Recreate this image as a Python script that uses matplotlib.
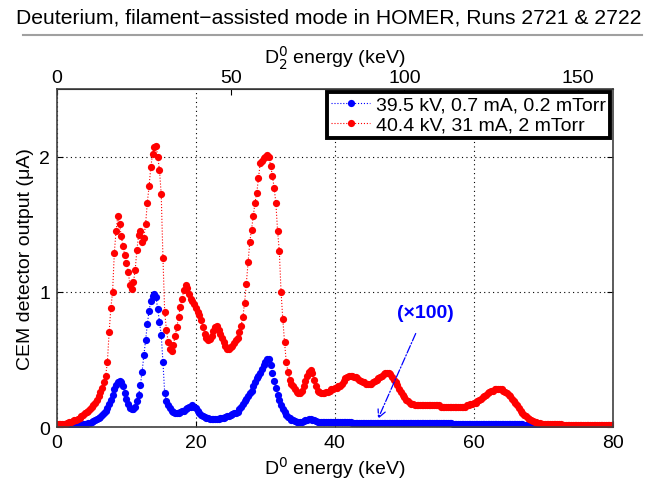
import numpy as np
import matplotlib
matplotlib.use('Agg')
import matplotlib.pyplot as plt
from matplotlib.lines import Line2D

plt.rcParams['font.family'] = ['Liberation Sans', 'DejaVu Sans']

# D0 energy grid (keV), 0.25 keV steps
energy = np.arange(0, 80.001, 0.25)

# 39.5 kV, 0.7 mA, 0.2 mTorr  (already x100)
blue_vals = [
    0.005, 0.005, 0.005, 0.005, 0.005, 0.006, 0.007, 0.008,
    0.009, 0.010, 0.011, 0.012, 0.013, 0.015, 0.017, 0.019,
    0.021, 0.024, 0.028, 0.032, 0.037, 0.043, 0.050, 0.058,
    0.067, 0.077, 0.088, 0.10, 0.12, 0.14, 0.17, 0.20,
    0.24, 0.28, 0.31, 0.33, 0.34, 0.33, 0.30, 0.25,
    0.21, 0.17, 0.14, 0.13, 0.13, 0.15, 0.19, 0.24,
    0.31, 0.41, 0.53, 0.64, 0.76, 0.86, 0.93, 0.97,
    0.98, 0.96, 0.87, 0.78, 0.68, 0.48, 0.25, 0.19,
    0.16, 0.14, 0.12, 0.11, 0.10, 0.10, 0.10, 0.11,
    0.12, 0.12, 0.13, 0.14, 0.15, 0.15, 0.16, 0.15,
    0.14, 0.12, 0.10, 0.09, 0.08, 0.075, 0.07, 0.065,
    0.06, 0.06, 0.06, 0.06, 0.06, 0.06, 0.065, 0.07,
    0.07, 0.075, 0.08, 0.085, 0.09, 0.095, 0.10, 0.10,
    0.11, 0.13, 0.15, 0.17, 0.19, 0.21, 0.23, 0.25,
    0.27, 0.30, 0.33, 0.36, 0.38, 0.40, 0.43, 0.46,
    0.48, 0.50, 0.50, 0.46, 0.40, 0.34, 0.29, 0.24,
    0.20, 0.16, 0.13, 0.11, 0.09, 0.075, 0.065, 0.055,
    0.05, 0.045, 0.04, 0.04, 0.04, 0.04, 0.045, 0.05,
    0.055, 0.06, 0.06, 0.055, 0.05, 0.045, 0.04, 0.04,
    0.040, 0.039, 0.038, 0.038, 0.037, 0.037, 0.036, 0.036,
    0.035, 0.035, 0.035, 0.035, 0.034, 0.034, 0.034, 0.034,
    0.034, 0.034, 0.033, 0.033, 0.033, 0.033, 0.033, 0.033,
    0.032, 0.032, 0.032, 0.032, 0.032, 0.032, 0.031, 0.031,
    0.031, 0.031, 0.031, 0.031, 0.030, 0.030, 0.030, 0.030,
    0.030, 0.030, 0.030, 0.030, 0.029, 0.029, 0.029, 0.029,
    0.029, 0.029, 0.029, 0.029, 0.028, 0.028, 0.028, 0.028,
    0.028, 0.028, 0.028, 0.028, 0.027, 0.027, 0.027, 0.027,
    0.027, 0.027, 0.027, 0.027, 0.026, 0.026, 0.026, 0.026,
    0.026, 0.026, 0.026, 0.026, 0.025, 0.025, 0.025, 0.025,
    0.025, 0.025, 0.025, 0.025, 0.025, 0.025, 0.025, 0.025,
    0.025, 0.025, 0.025, 0.025, 0.024, 0.024, 0.024, 0.024,
    0.024, 0.024, 0.024, 0.024, 0.023, 0.023, 0.023, 0.023,
    0.023, 0.023, 0.022, 0.022, 0.022, 0.021, 0.021, 0.021,
    0.020, 0.020, 0.020, 0.019, 0.019, 0.018, 0.018, 0.017,
    0.017, 0.016, 0.016, 0.015, 0.015, 0.015, 0.014, 0.014,
    0.014, 0.013, 0.013, 0.013, 0.013, 0.012, 0.012, 0.012,
    0.012, 0.012, 0.012, 0.011, 0.011, 0.011, 0.011, 0.011,
    0.011, 0.011, 0.011, 0.010, 0.010, 0.010, 0.010, 0.010,
    0.010, 0.010, 0.010, 0.010, 0.010, 0.010, 0.010, 0.010,
    0.010, 0.010, 0.010, 0.010, 0.010, 0.010, 0.010, 0.010,
    0.010,
]

# 40.4 kV, 31 mA, 2 mTorr
red_vals = [
    0.02, 0.02, 0.02, 0.02, 0.02, 0.025, 0.03, 0.035,
    0.04, 0.045, 0.05, 0.055, 0.06, 0.07, 0.08, 0.09,
    0.10, 0.11, 0.12, 0.135, 0.15, 0.165, 0.18, 0.20,
    0.23, 0.26, 0.29, 0.33, 0.38, 0.48, 0.70, 0.88,
    1.00, 1.29, 1.45, 1.56, 1.50, 1.41, 1.34, 1.27,
    1.21, 1.15, 1.05, 1.02, 1.07, 1.16, 1.31, 1.42,
    1.45, 1.37, 1.40, 1.50, 1.66, 1.78, 1.92, 2.02,
    2.07, 2.08, 2.00, 1.90, 1.72, 1.25, 0.85, 0.72,
    0.63, 0.58, 0.56, 0.61, 0.67, 0.74, 0.81, 0.89,
    0.95, 1.01, 1.05, 1.03, 0.98, 0.95, 0.93, 0.91,
    0.88, 0.85, 0.83, 0.79, 0.74, 0.69, 0.66, 0.64,
    0.65, 0.67, 0.71, 0.74, 0.75, 0.72, 0.69, 0.66,
    0.63, 0.60, 0.58, 0.58, 0.59, 0.60, 0.62, 0.64,
    0.66, 0.70, 0.75, 0.81, 0.92, 1.06, 1.22, 1.37,
    1.46, 1.56, 1.66, 1.73, 1.84, 1.95, 1.97, 1.99,
    2.00, 2.01, 2.00, 1.93, 1.86, 1.77, 1.66, 1.45,
    1.30, 1.00, 0.80, 0.63, 0.48, 0.41, 0.35, 0.32,
    0.30, 0.28, 0.26, 0.25, 0.25, 0.27, 0.30, 0.34,
    0.38, 0.41, 0.42, 0.40, 0.35, 0.30, 0.27, 0.26,
    0.25, 0.25, 0.25, 0.26, 0.26, 0.27, 0.28, 0.28,
    0.29, 0.29, 0.30, 0.30, 0.32, 0.34, 0.36, 0.37,
    0.38, 0.38, 0.38, 0.37, 0.37, 0.36, 0.35, 0.34,
    0.33, 0.33, 0.32, 0.32, 0.32, 0.32, 0.33, 0.34,
    0.35, 0.36, 0.37, 0.38, 0.39, 0.40, 0.40, 0.40,
    0.39, 0.37, 0.35, 0.33, 0.31, 0.28, 0.26, 0.24,
    0.22, 0.20, 0.19, 0.18, 0.17, 0.17, 0.16, 0.16,
    0.16, 0.16, 0.16, 0.16, 0.16, 0.16, 0.16, 0.16,
    0.16, 0.16, 0.16, 0.16, 0.16, 0.15, 0.15, 0.15,
    0.15, 0.15, 0.15, 0.15, 0.15, 0.15, 0.15, 0.15,
    0.15, 0.15, 0.15, 0.15, 0.16, 0.16, 0.17, 0.17,
    0.18, 0.18, 0.19, 0.20, 0.21, 0.22, 0.23, 0.24,
    0.25, 0.26, 0.27, 0.27, 0.28, 0.28, 0.28, 0.28,
    0.28, 0.27, 0.26, 0.25, 0.24, 0.23, 0.21, 0.19,
    0.18, 0.16, 0.14, 0.12, 0.10, 0.09, 0.08, 0.07,
    0.06, 0.05, 0.045, 0.04, 0.035, 0.03, 0.03, 0.025,
    0.025, 0.022, 0.02, 0.02, 0.02, 0.02, 0.02, 0.02,
    0.02, 0.02, 0.02, 0.018, 0.018, 0.018, 0.018, 0.018,
    0.018, 0.017, 0.017, 0.017, 0.017, 0.016, 0.016, 0.016,
    0.016, 0.016, 0.015, 0.015, 0.015, 0.015, 0.015, 0.015,
    0.015, 0.015, 0.014, 0.014, 0.014, 0.014, 0.014, 0.014,
    0.014,
]

labels = ['39.5 kV, 0.7 mA, 0.2 mTorr', '40.4 kV, 31 mA, 2 mTorr']
title = 'Deuterium, filament\u2212assisted mode in HOMER, Runs 2721 & 2722'

fig = plt.figure(figsize=(6.45, 4.85), dpi=100)
ax = fig.add_axes([0.0884, 0.1175, 0.8616, 0.697])

ax.plot(energy, blue_vals, color='blue', ls=':', lw=0.8, marker='o', ms=5.2,
        mec='none', label=labels[0])
ax.plot(energy, red_vals, color='red', ls=':', lw=0.8, marker='o', ms=5.2,
        mec='none', label=labels[1])

ax.set_xlim(0, 80)
ax.set_ylim(0, 2.5)
ax.set_xticks([0, 20, 40, 60, 80])
ax.set_yticks([0, 1, 2])
ax.tick_params(direction='in', labelsize=14, length=4, right=True, pad=5)
ax.grid(True, color='black', ls=(0, (1, 3)), lw=0.8)
for s in ax.spines.values():
    s.set_color('#404040')
    s.set_linewidth(1.2)

ax.set_xlabel('D$^0$ energy (keV)', fontsize=14, labelpad=2)
ax.set_ylabel('CEM detector output (\u03bcA)', fontsize=14, labelpad=4)

# top axis: D2^0 energy is twice D0 energy
top = ax.secondary_xaxis('top', functions=(lambda x: 2 * x, lambda x: x / 2))
top.set_xticks([0, 50, 100, 150])
top.tick_params(direction='in', labelsize=14, length=4, pad=2)
top.set_xlabel('D$_2^0$ energy (keV)', fontsize=14, labelpad=4)

leg = ax.legend(loc='upper right', fontsize=14, handlelength=2.0,
                borderaxespad=0.15, borderpad=0.2, labelspacing=0.15,
                handletextpad=0.3, fancybox=False, framealpha=1)
leg.get_frame().set_edgecolor('black')
leg.get_frame().set_linewidth(2.8)

ax.annotate('(\u00d7100)', xy=(46.2, 0.06), xytext=(53, 0.85),
            color='blue', fontsize=14, fontweight='bold', ha='center', va='center',
            arrowprops=dict(arrowstyle='->', color='blue', ls='-.', lw=0.9,
                            shrinkA=8, shrinkB=0))

fig.text(0.51, 0.962, title, ha='center', va='center', fontsize=15.2)
fig.add_artist(Line2D([0.035, 0.995], [0.926, 0.926], color='#a0a0a0', lw=1.5))

fig.savefig('out.png', dpi=100)
